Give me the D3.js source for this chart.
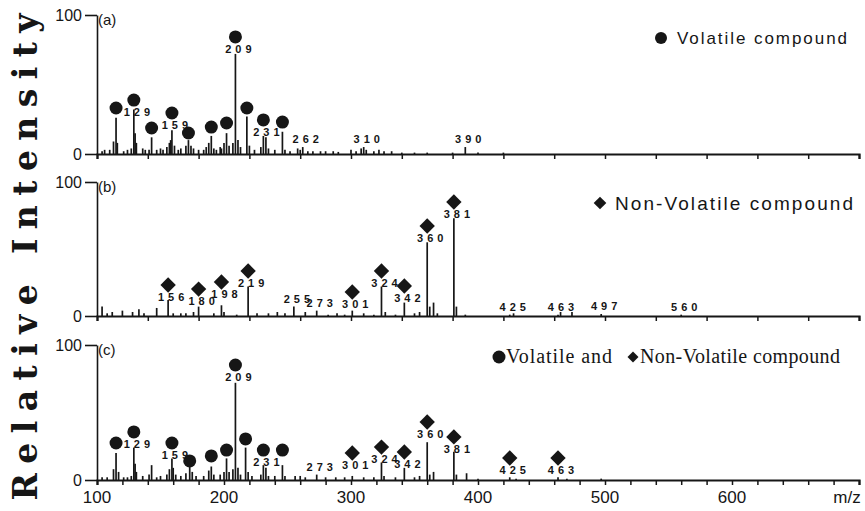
<!DOCTYPE html>
<html><head><meta charset="utf-8">
<script src="https://cdn.jsdelivr.net/npm/d3@7"></script>
<style>body{margin:0;background:#fff}svg{display:block}</style>
</head><body><svg id="c" width="865" height="511"></svg>
<script>
// ---------- data ----------
const mzDomain = [100, 700];
const xTickLabels = [100, 200, 300, 400, 500, 600];

const peaksA = [[104,2],[106,3],[110,3],[113,9],[115,26],[116,8],[121,2],[124,3],[127,4],[129,32],[130,15],[131,8],[136,4],[138,3],[141,3],[143,12],[147,3],[150,4],[152,3],[155,5],[157,8],[158,10],[159,17],[161,6],[164,3],[166,4],[170,6],[172,10],[174,6],[176,4],[180,3],[184,3],[186,5],[188,8],[190,13],[192,4],[194,3],[197,5],[198,4],[200,8],[202,15],[204,6],[207,8],[209,72],[211,10],[213,5],[218,27],[220,6],[224,3],[229,5],[231,13],[233,12],[235,4],[240,3],[246,16],[248,3],[252,2],[258,4],[260,3],[262,5],[266,2],[270,2],[276,2],[280,2],[286,2],[290,1.5],[300,3],[304,2],[308,4],[310,5],[312,3],[318,2],[322,3],[326,2],[332,2],[340,1],[350,1],[360,1],[380,1],[390,5],[400,1],[420,1]];
const circlesA = [[115,33.1],[129,38.8],[143,18.7],[159,29.5],[172,15.1],[190,19.4],[202,22.3],[209,84.2],[218,33.1],[231,24.5],[246,23]];
const diamondsA = [];
const labelsA = [[129,"129"],[159,"159"],[209,"209"],[231,"231"],[262,"262"],[310,"310"],[390,"390"]];

const peaksB = [[104,7],[108,2],[112,3],[120,4],[128,3],[133,5],[137,2],[147,6],[156,12],[160,2],[166,2],[170,2],[176,3],[180,7],[192,2],[198,8],[200,3],[210,1],[219,22],[226,2],[235,2],[242,3],[248,2],[255,7],[264,3],[273,4],[282,1],[289,2],[295,1],[301,4],[310,2],[318,1],[324,22],[327,3],[335,1],[342,10],[350,2],[354,3],[360,55],[362,7],[365,10],[368,2],[381,73],[383,7],[390,1],[425,1],[428,2],[463,1],[465,3],[474,3],[497,1.5],[560,1]];
const circlesB = [];
const diamondsB = [[156,23.1],[180,20.1],[198,25.4],[219,33.6],[301,17.9],[324,33.6],[342,22.4],[360,67.2],[381,85.1]];
const labelsB = [[156,"156"],[180,"180"],[198,"198"],[219,"219"],[255,"255"],[273,"273"],[301,"301"],[324,"324"],[342,"342"],[360,"360"],[381,"381"],[425,"425"],[463,"463"],[497,"497"],[560,"560"]];

const peaksC = [[104,2],[108,2],[113,8],[115,20],[117,6],[121,2],[124,2],[127,3],[129,24],[130,12],[131,6],[136,3],[141,4],[143,11],[147,2],[150,3],[155,4],[157,8],[159,16],[160,9],[162,4],[166,3],[170,5],[173,11],[175,6],[178,3],[184,3],[188,7],[190,10],[192,4],[197,4],[200,6],[202,16],[204,6],[207,8],[209,72],[211,9],[213,4],[217,24],[219,6],[222,3],[229,4],[231,11],[233,9],[235,3],[240,3],[246,11],[248,3],[256,3],[260,3],[264,2],[273,4],[280,2],[288,2],[295,2],[301,3],[310,2],[318,2],[324,13],[326,3],[335,2],[342,9],[350,2],[354,3],[360,28],[362,4],[365,6],[381,21],[383,4],[391,5],[400,1],[425,2],[430,1],[463,2],[470,1],[497,1]];
const circlesC = [[115,27.4],[129,35.6],[159,27.4],[173,14.1],[190,17.8],[202,22.2],[209,85.2],[217,30.4],[231,22.2],[246,22.2]];
const diamondsC = [[301,20],[324,24.4],[342,20.7],[360,43],[381,31.9],[425,16.3],[463,16.3]];
const labelsC = [[129,"129"],[159,"159"],[209,"209"],[231,"231"],[273,"273"],[301,"301"],[324,"324"],[342,"342"],[360,"360"],[381,"381"],[425,"425"],[463,"463"]];

const panelNames = ["(a)", "(b)", "(c)"];
const yTitle = "Relative Intensity";
const xTitle = "m/z";

// ---------- drawing ----------
const svg = d3.select("#c");
const ink = "#161616";
const x = d3.scaleLinear().domain(mzDomain).range([97, 859]);

const panels = [
  {top:15, bottom:154, peaks:peaksA, circles:circlesA, diamonds:diamondsA, labels:labelsA, name:panelNames[0], ticks:d3.range(100,701,40)},
  {top:182, bottom:316, peaks:peaksB, circles:circlesB, diamonds:diamondsB, labels:labelsB, name:panelNames[1], ticks:d3.range(100,701,40)},
  {top:345, bottom:480, peaks:peaksC, circles:circlesC, diamonds:diamondsC, labels:labelsC, name:panelNames[2], ticks:d3.range(100,701,20)}
];

const diamondPath = d3.symbol(d3.symbolSquare, 118)();

panels.forEach((p, i) => {
  const y = d3.scaleLinear().domain([0,100]).range([p.bottom, p.top]);
  const g = svg.append("g");

  // peaks
  g.selectAll("line.pk").data(p.peaks).join("line")
    .attr("x1", d => x(d[0])).attr("x2", d => x(d[0]))
    .attr("y1", y(0)).attr("y2", d => y(d[1]))
    .attr("stroke", ink).attr("stroke-width", 1.7);

  // x axis
  const xa = g.append("g").attr("transform", `translate(0,${y(0)})`)
    .call(d3.axisBottom(x).tickValues(p.ticks).tickSize(5).tickSizeOuter(5).tickFormat(""));
  xa.select(".domain").attr("stroke", ink).attr("stroke-width", 2.2);
  xa.selectAll(".tick line").attr("stroke", ink).attr("stroke-width", 1.5);

  // y axis
  const ya = g.append("g").attr("transform", "translate(97,0)")
    .call(d3.axisLeft(y).tickValues([0,100]).tickSize(12).tickSizeOuter(0).tickPadding(3));
  ya.select(".domain").attr("stroke", ink).attr("stroke-width", 1.6);
  ya.selectAll(".tick line").attr("stroke", ink).attr("stroke-width", 1.6);
  ya.selectAll(".tick text").attr("font-family", "Liberation Sans, Arial, sans-serif")
    .attr("font-size", 16).attr("fill", ink);

  // panel name
  g.append("text").attr("x", 98).attr("y", y(100) + 10)
    .attr("font-family", "Liberation Sans, Arial, sans-serif").attr("font-size", 15)
    .attr("fill", ink).text(p.name);

  // markers
  g.selectAll("circle.mk").data(p.circles).join("circle")
    .attr("cx", d => x(d[0])).attr("cy", d => y(d[1])).attr("r", 6.5).attr("fill", ink);
  g.selectAll("path.mk").data(p.diamonds).join("path")
    .attr("d", diamondPath)
    .attr("transform", d => `translate(${x(d[0])},${y(d[1])}) rotate(45)`)
    .attr("fill", ink);

  // labels
  const markerLevel = new Map([...p.circles, ...p.diamonds].map(d => [d[0], d[1]]));
  const peakLevel = new Map(p.peaks.map(d => [d[0], d[1]]));
  g.selectAll("text.lb").data(p.labels).join("text")
    .attr("x", d => x(d[0]) + 5)
    .attr("y", d => markerLevel.has(d[0]) ? y(markerLevel.get(d[0])) + 16 : y(peakLevel.get(d[0]) || 0) - 4)
    .attr("text-anchor", "middle")
    .attr("font-family", "Liberation Sans, Arial, sans-serif").attr("font-weight", "bold")
    .attr("font-size", 11).attr("letter-spacing", 4).attr("fill", ink)
    .text(d => d[1]);
});

// x tick labels (bottom panel)
svg.selectAll("text.xl").data(xTickLabels).join("text")
  .attr("x", d => x(d)).attr("y", 503).attr("text-anchor", "middle")
  .attr("font-family", "Liberation Sans, Arial, sans-serif").attr("font-size", 17)
  .attr("fill", ink).text(d => d);
svg.append("text").attr("x", 847).attr("y", 503).attr("text-anchor", "middle")
  .attr("font-family", "Liberation Sans, Arial, sans-serif").attr("font-size", 17)
  .attr("fill", ink).text(xTitle);

// y title
svg.append("text").attr("transform", "translate(37,257) rotate(-90)")
  .attr("text-anchor", "middle")
  .attr("font-family", "DejaVu Serif, serif").attr("font-weight", "bold").attr("font-size", 33)
  .attr("textLength", 487).attr("lengthAdjust", "spacing")
  .attr("fill", ink).text(yTitle);

// legends
const sans = "Liberation Sans, Arial, sans-serif";
svg.append("circle").attr("cx", 661).attr("cy", 38).attr("r", 6).attr("fill", ink);
svg.append("text").attr("x", 677).attr("y", 44).attr("font-family", sans).attr("font-size", 17)
  .attr("textLength", 170).attr("lengthAdjust", "spacing").attr("fill", ink).text("Volatile compound");

svg.append("path").attr("d", d3.symbol(d3.symbolSquare, 80)())
  .attr("transform", "translate(600,203) rotate(45)").attr("fill", ink);
svg.append("text").attr("x", 615).attr("y", 210).attr("font-family", sans).attr("font-size", 19)
  .attr("textLength", 238).attr("lengthAdjust", "spacing").attr("fill", ink).text("Non-Volatile compound");

const serif = "Liberation Serif, Times New Roman, serif";
svg.append("circle").attr("cx", 499).attr("cy", 357).attr("r", 6.5).attr("fill", ink);
svg.append("text").attr("x", 506).attr("y", 363).attr("font-family", serif).attr("font-size", 20)
  .attr("textLength", 106).attr("lengthAdjust", "spacing")
  .attr("fill", ink).text("Volatile and");
svg.append("path").attr("d", d3.symbol(d3.symbolSquare, 60)())
  .attr("transform", "translate(633,357) rotate(45)").attr("fill", ink);
svg.append("text").attr("x", 640).attr("y", 363).attr("font-family", serif).attr("font-size", 20)
  .attr("textLength", 200).attr("lengthAdjust", "spacing")
  .attr("fill", ink).text("Non-Volatile compound");
</script></body></html>
